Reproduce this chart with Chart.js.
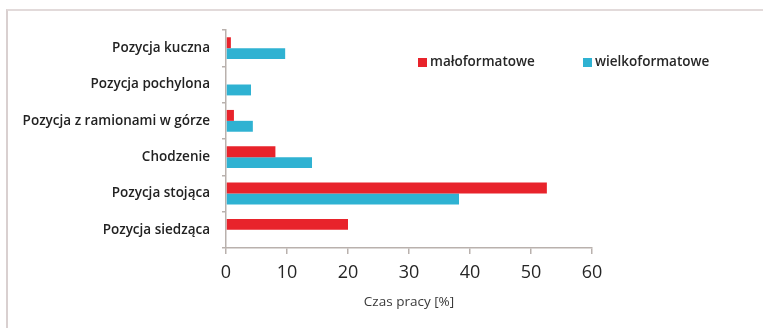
<!DOCTYPE html>
<html>
<head>
<meta charset="utf-8">
<script src="https://cdn.jsdelivr.net/npm/chart.js@4"></script>
<style>
    html, body { margin: 0; padding: 0; background: #fff; }
    #wrap { position: relative; width: 763px; height: 328px; overflow: hidden; }
    #frame { position: absolute; left: 6px; top: 9px; right: -10px; bottom: -10px;
             border-left: 2px solid #d9d0d0; border-top: 2px solid #e2dada; }
    canvas { position: absolute; left: 0; top: 0; }
</style>
</head>
<body>
<div id="wrap">
    <div id="frame"></div>
    <canvas id="chart" width="763" height="328"></canvas>
</div>
<script>
const categories = [
    'Pozycja kuczna',
    'Pozycja pochylona',
    'Pozycja z ramionami w górze',
    'Chodzenie',
    'Pozycja stojąca',
    'Pozycja siedząca'
];
const seriesNames = ['małoformatowe', 'wielkoformatowe'];
const maloformatowe = [0.8, 0, 1.3, 8.1, 52.6, 20.0];
const wielkoformatowe = [9.7, 4.1, 4.4, 14.1, 38.2, 0];
const xTicks = [0, 10, 20, 30, 40, 50, 60];
const axisTitle = 'Czas pracy [%]';

const RED = '#e8232b';
const BLUE = '#2fb2d2';
const FONT = '"Open Sans", "DejaVu Sans", sans-serif';

// legend drawn inside the plot area, top right
const innerLegend = {
    id: 'innerLegend',
    afterDraw(chart) {
        const c = chart.ctx;
        const spots = [418, 583];
        c.save();
        c.font = '600 13.5px ' + FONT;
        c.textBaseline = 'middle';
        chart.data.datasets.forEach((ds, i) => {
            const x = spots[i];
            c.fillStyle = ds.backgroundColor;
            c.fillRect(x, 58, 9, 9);
            c.fillStyle = '#262626';
            c.fillText(ds.label, x + 12, 62);
        });
        c.restore();
    }
};

new Chart(document.getElementById('chart'), {
    type: 'bar',
    data: {
        labels: categories,
        datasets: [
            { label: seriesNames[0], data: maloformatowe, backgroundColor: RED },
            { label: seriesNames[1], data: wielkoformatowe, backgroundColor: BLUE }
        ]
    },
    options: {
        indexAxis: 'y',
        responsive: false,
        animation: false,
        categoryPercentage: 0.6,
        barPercentage: 1.0,
        layout: { padding: { left: 0, top: 30, right: 171, bottom: 18 } },
        plugins: { legend: { display: false }, tooltip: { enabled: false } },
        scales: {
            x: {
                min: 0, max: 60,
                afterBuildTicks: (s) => { s.ticks = xTicks.map(v => ({ value: v })); },
                afterFit: (s) => { s.height = 62; },
                border: { color: '#b9b1ad', width: 1.5 },
                grid: { drawOnChartArea: false, tickLength: 6, color: '#b9b1ad', lineWidth: 1.5 },
                ticks: { color: '#262626', font: { family: FONT, size: 18 }, padding: 8 },
                title: { display: true, text: axisTitle, color: '#3a3a3a',
                         font: { family: FONT, size: 13.5 }, padding: 0 }
            },
            y: {
                afterFit: (s) => { s.width = 226; },
                border: { color: '#b9b1ad', width: 1.5 },
                grid: { drawOnChartArea: false, tickLength: 4, color: '#b9b1ad', lineWidth: 1.5 },
                ticks: { color: '#222', font: { family: FONT, size: 13.5, weight: '600' }, padding: 12 }
            }
        }
    },
    plugins: [innerLegend]
});
</script>
</body>
</html>
